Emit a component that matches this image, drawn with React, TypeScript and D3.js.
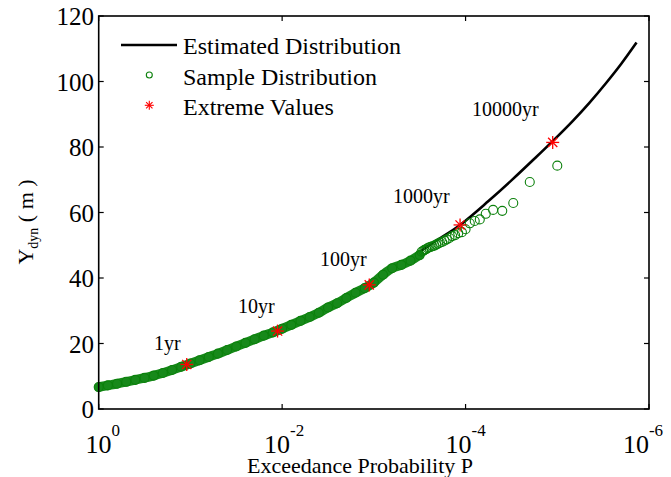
import React from "react";
import * as d3 from "d3";

// ---- data (log10 of exceedance probability P, and Y_dyn in m) ----
const lineLogP = [0, -0.5, -1.0, -1.5, -2.0, -2.5, -3.0, -3.3, -3.647, -3.94, -4.25, -4.5, -4.75, -4.95, -5.17, -5.35, -5.537, -5.7, -5.864];
const lineY = [6.7, 9.5, 13.9, 19.1, 24.5, 31.0, 38.6, 44.2, 50.8, 56.2, 63.5, 69.8, 76.4, 81.8, 88.0, 93.5, 99.7, 105.5, 111.9];

// dense part of the sample distribution (band of overlapping circles)
const denseLogP = [0, -0.1, -0.2, -0.3, -0.4, -0.5, -0.6, -0.7, -0.8, -0.9, -1.0, -1.1, -1.2, -1.3, -1.4, -1.5, -1.6, -1.7, -1.8, -1.9, -2.0, -2.1, -2.2, -2.3, -2.4, -2.5, -2.6, -2.7, -2.8, -2.9, -3.0, -3.1, -3.2, -3.3, -3.4, -3.5];
const denseY = [6.7, 7.2, 7.7, 8.3, 8.9, 9.5, 10.2, 11.0, 11.9, 12.9, 13.9, 14.9, 15.9, 16.9, 18.0, 19.1, 20.2, 21.3, 22.4, 23.4, 24.5, 25.7, 26.9, 28.1, 29.4, 31.0, 32.3, 33.9, 35.5, 36.9, 38.6, 41.0, 43.0, 44.0, 45.3, 47.0];

// sparse tail of the sample distribution (individual circles)
const tailLogP = [-5.0, -4.70, -4.52, -4.40, -4.30, -4.22, -4.155, -4.10, -4.046, -4.0, -3.96, -3.92, -3.886, -3.854, -3.824, -3.796, -3.77, -3.745, -3.72, -3.70, -3.68, -3.66, -3.64, -3.62, -3.60, -3.585, -3.57, -3.553, -3.538, -3.52];
const tailY = [74.3, 69.3, 62.9, 60.5, 60.8, 59.6, 57.9, 57.4, 56.7, 54.9, 54.0, 53.7, 53.1, 52.8, 52.2, 51.8, 51.4, 51.0, 50.8, 50.5, 50.2, 49.9, 49.7, 49.5, 49.3, 49.1, 48.8, 48.6, 48.3, 48.0];

// extreme values (return periods)
const extremeLogP = [-0.96, -1.95, -2.95, -3.94, -4.95];
const extremeY = [13.6, 23.8, 37.9, 56.2, 81.4];
const extremeLabels = ["1yr", "10yr", "100yr", "1000yr", "10000yr"];

const yTicks = [0, 20, 40, 60, 80, 100, 120];
const xTickExp = [0, -2, -4, -6];
const legendLabels = ["Estimated Distribution", "Sample Distribution", "Extreme Values"];

const W = 671, H = 477;
const L = 98.7, R = 649, T = 16, B = 409;
const FONT = "'Liberation Serif', 'Times New Roman', serif";

function Star({ cx, cy, s, color, w }: { cx: number; cy: number; s: number; color: string; w: number }) {
  const d = s * 0.7071;
  return (
    <g stroke={color} strokeWidth={w}>
      <line x1={cx - s} y1={cy} x2={cx + s} y2={cy} />
      <line x1={cx} y1={cy - s} x2={cx} y2={cy + s} />
      <line x1={cx - d} y1={cy - d} x2={cx + d} y2={cy + d} />
      <line x1={cx - d} y1={cy + d} x2={cx + d} y2={cy - d} />
    </g>
  );
}

export default function App() {
  const x = d3.scaleLog().domain([1, 1e-6]).range([L, R]);
  const y = d3.scaleLinear().domain([0, 120]).range([B, T]);
  const px = (lp: number) => x(Math.pow(10, lp));

  const line = d3.line<number>().x((_, i) => px(lineLogP[i])).y((v) => y(v)).curve(d3.curveMonotoneX);
  const band = d3.line<number>().x((_, i) => px(denseLogP[i])).y((v) => y(v)).curve(d3.curveMonotoneX);

  const green = "#0b800b";
  const labelPos = [
    [154, 350],
    [238, 312.7],
    [320, 266],
    [393, 202.7],
    [472, 116],
  ];
  const tickShift: Record<string, number> = { "0": 4, "-2": 2, "-4": 0, "-6": -6 };

  return (
    <svg width={W} height={H} style={{ position: "fixed", left: 0, top: 0, background: "#fff" }} fontFamily={FONT}>
      <rect x={0} y={0} width={W} height={H} fill="#fff" />
      {/* estimated distribution */}
      <path d={line(lineY) || ""} fill="none" stroke="#000" strokeWidth={2.6} />
      {/* sample band */}
      <path d={band(denseY) || ""} fill="none" stroke="#17891a" strokeWidth={9.5} strokeLinecap="round" />
      {denseY.map((v, i) => (
        <circle key={"d" + i} cx={px(denseLogP[i])} cy={y(v)} r={4.5} fill="none" stroke={green} strokeWidth={1.1} />
      ))}
      {tailY.map((v, i) => (
        <circle key={"t" + i} cx={px(tailLogP[i])} cy={y(v)} r={4.5} fill="none" stroke={green} strokeWidth={1.1} />
      ))}
      {/* extreme values */}
      {extremeY.map((v, i) => (
        <Star key={"e" + i} cx={px(extremeLogP[i])} cy={y(v)} s={6.5} w={1.3} color="#ff0000" />
      ))}
      {extremeLabels.map((t, i) => (
        <text key={"l" + i} x={labelPos[i][0]} y={labelPos[i][1]} fontSize={20} fill="#000">
          {t}
        </text>
      ))}

      {/* frame */}
      <rect x={L} y={T} width={R - L} height={B - T} fill="none" stroke="#000" strokeWidth={1.6} />
      {yTicks.map((t) => (
        <g key={"yt" + t}>
          <line x1={L} x2={L + 5} y1={y(t)} y2={y(t)} stroke="#000" strokeWidth={1.2} />
          <line x1={R} x2={R - 5} y1={y(t)} y2={y(t)} stroke="#000" strokeWidth={1.2} />
          <text x={94} y={y(t) + 9} fontSize={25} textAnchor="end" fill="#000">
            {t}
          </text>
        </g>
      ))}
      {xTickExp.map((e) => {
        const xx = x(Math.pow(10, e));
        return (
          <g key={"xt" + e}>
            <line x1={xx} x2={xx} y1={B} y2={B - 5} stroke="#000" strokeWidth={1.2} />
            <line x1={xx} x2={xx} y1={T} y2={T + 5} stroke="#000" strokeWidth={1.2} />
            <text x={xx + tickShift[String(e)]} y={453} fontSize={26} textAnchor="middle" fill="#000">
              10<tspan fontSize={17} dy={-17}>{String(e)}</tspan>
            </text>
          </g>
        );
      })}
      <text x={360} y={473} fontSize={22} textAnchor="middle" fill="#000">
        Exceedance Probability P
      </text>
      <text transform="translate(33,222) rotate(-90)" fontSize={22} textAnchor="middle" fill="#000">
        Y<tspan fontSize={14} dy={5}>dyn</tspan>
        <tspan dy={-5}> ( m )</tspan>
      </text>

      {/* legend */}
      <line x1={121} x2={177} y1={45} y2={45} stroke="#000" strokeWidth={2.6} />
      <circle cx={149.3} cy={75} r={3} fill="none" stroke={green} strokeWidth={1.1} />
      <Star cx={149.3} cy={105.3} s={4.5} w={1.1} color="#ff0000" />
      {legendLabels.map((t, i) => (
        <text key={"lg" + i} x={183} y={54 + i * 30.7} fontSize={24} fill="#000">
          {t}
        </text>
      ))}
    </svg>
  );
}
